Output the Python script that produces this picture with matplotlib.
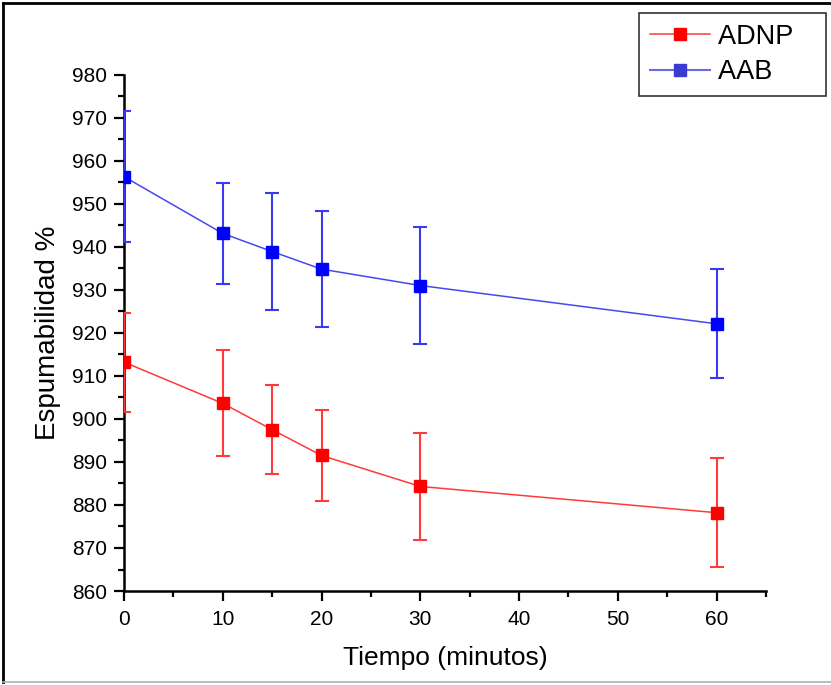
import matplotlib
matplotlib.use("Agg")
import matplotlib.pyplot as plt
from matplotlib.lines import Line2D
from matplotlib.patches import Rectangle
from matplotlib.ticker import MultipleLocator

plt.rcParams['font.family'] = ['Liberation Sans', 'DejaVu Sans']

tiempo = [0, 10, 15, 20, 30, 60]
adnp = [913.2, 903.6, 897.5, 891.5, 884.3, 878.2]
adnp_err = [11.5, 12.3, 10.4, 10.5, 12.5, 12.7]
aab = [956.3, 943.1, 938.9, 934.8, 931.0, 922.1]
aab_err = [15.2, 11.7, 13.5, 13.5, 13.6, 12.7]
series_names = ['ADNP', 'AAB']

fig = plt.figure(figsize=(8.31, 6.85), dpi=100)
ax = fig.add_axes([0.1492, 0.1372, 0.7726, 0.7538])

ax.errorbar(tiempo, adnp, yerr=adnp_err, color='#ff3a3a', lw=1.1,
            marker='s', ms=8.5, mfc='#ff0000', mec='#ff0000',
            ecolor='#ff3a3a', elinewidth=1.5, capsize=5, capthick=1.5, zorder=3)
ax.errorbar(tiempo, aab, yerr=aab_err, color='#4848f0', lw=1.1,
            marker='s', ms=8.5, mfc='#0000ff', mec='#0000ff',
            ecolor='#3a3af0', elinewidth=1.5, capsize=5, capthick=1.5, zorder=3)

# mask marks that spill left of the y axis (the reference clips them)
ax.add_patch(Rectangle((-0.04, 0), 0.0375, 1, transform=ax.transAxes,
                       facecolor='white', edgecolor='none', clip_on=False, zorder=4))
ax.yaxis.set_zorder(6)
ax.xaxis.set_zorder(6)

ax.set_xlim(0, 65)
ax.set_ylim(860, 980)
ax.xaxis.set_minor_locator(MultipleLocator(5))
ax.yaxis.set_major_locator(MultipleLocator(10))
ax.yaxis.set_minor_locator(MultipleLocator(5))
ax.set_xticks([0, 10, 20, 30, 40, 50, 60])

for s in ['top', 'right']:
    ax.spines[s].set_visible(False)
for s in ['left', 'bottom']:
    ax.spines[s].set_linewidth(1.8)
    ax.spines[s].set_zorder(2.5)

ax.tick_params(which='major', direction='out', length=7, width=1.6, labelsize=15, pad=5)
ax.tick_params(which='minor', direction='out', length=4, width=1.6)
ax.tick_params(axis='x', which='major', pad=7)

ax.set_xlabel('Tiempo (minutos)', fontsize=19, labelpad=12)
ax.set_ylabel('Espumabilidad %', fontsize=20, labelpad=8)

handles = [Line2D([], [], color='#ff3a3a', lw=1.1, marker='s', ms=8.5, mfc='#ff0000', mec='#ff0000'),
           Line2D([], [], color='#6a6ae8', lw=1.5, marker='s', ms=8.5, mfc='#3a3ad0', mec='#3a3ad0')]
leg = fig.legend(handles, [n + '   ' for n in series_names], loc='upper right',
                 bbox_to_anchor=(826 / 831, 1 - 13 / 685),
                 fontsize=19.5, frameon=True, fancybox=False, edgecolor='black',
                 borderpad=0.4, handlelength=2.2, handletextpad=0.3,
                 labelspacing=0.35, borderaxespad=0)
leg.get_frame().set_linewidth(1.2)

# outer frame
fig.add_artist(Line2D([0.004, 1.0], [0.996, 0.996], transform=fig.transFigure, color='black', lw=2))
fig.add_artist(Line2D([0.004, 0.004], [0.004, 0.996], transform=fig.transFigure, color='black', lw=2))
fig.add_artist(Line2D([0.004, 1.0], [0.004, 0.004], transform=fig.transFigure, color='#b0b0b0', lw=1.2))

fig.savefig('out.png', dpi=100)
